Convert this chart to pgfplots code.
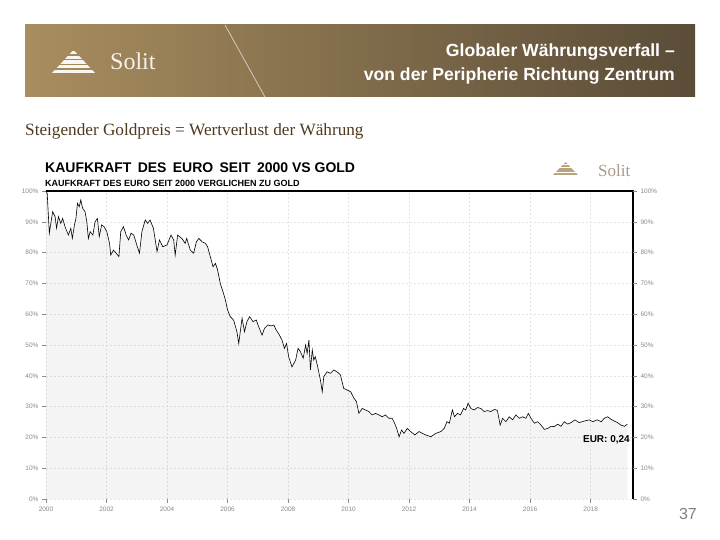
\documentclass[border=0pt]{standalone}
\usepackage{pgfplots}
\pgfplotsset{compat=1.18}
\usepackage{pgfplotstable}
\usepackage{fontspec}
\setmainfont{Liberation Sans}
\newfontfamily\serifrm{Liberation Serif}
\definecolor{bannerL}{HTML}{A88D5E}
\definecolor{bannerM}{HTML}{8C7450}
\definecolor{bannerR}{HTML}{5A4C38}
\definecolor{subbrown}{HTML}{4F3A1F}
\definecolor{gridgray}{HTML}{E4E4E4}
\definecolor{labgray}{HTML}{8A8A8A}
\definecolor{logotan}{HTML}{B9A47E}
\definecolor{logotext}{HTML}{A89A86}

\pgfplotstableread{
x y
2000.00 100.0
2000.04 99.2
2000.11 86.3
2000.22 93.3
2000.30 91.7
2000.35 87.9
2000.41 91.7
2000.49 89.5
2000.55 91.1
2000.63 88.4
2000.74 85.7
2000.82 87.9
2000.87 84.6
2000.94 89.0
2000.99 91.1
2001.04 96.0
2001.10 94.9
2001.15 97.1
2001.21 94.4
2001.29 93.3
2001.35 90.0
2001.40 84.6
2001.46 86.8
2001.55 85.7
2001.62 90.0
2001.70 91.1
2001.76 85.2
2001.84 89.0
2001.92 88.4
2002.01 86.8
2002.10 83.0
2002.14 79.2
2002.23 80.8
2002.32 79.8
2002.41 78.7
2002.47 86.8
2002.56 88.4
2002.65 85.7
2002.73 84.1
2002.81 86.3
2002.90 85.7
2003.00 82.5
2003.09 79.8
2003.17 86.8
2003.28 90.6
2003.36 89.5
2003.44 90.6
2003.55 87.9
2003.67 80.3
2003.75 84.1
2003.86 81.9
2004.00 82.5
2004.13 85.7
2004.22 84.1
2004.27 79.2
2004.35 85.7
2004.49 84.6
2004.60 83.0
2004.65 84.6
2004.77 80.8
2004.88 79.8
2004.97 83.5
2005.05 84.6
2005.16 83.5
2005.27 83.0
2005.34 81.9
2005.43 78.7
2005.52 75.4
2005.60 76.5
2005.67 74.4
2005.76 70.0
2005.85 67.3
2005.93 64.6
2006.00 61.4
2006.09 59.2
2006.20 58.1
2006.31 54.3
2006.37 50.5
2006.42 54.3
2006.48 58.7
2006.56 54.3
2006.64 57.6
2006.73 59.2
2006.84 57.6
2006.95 58.1
2007.03 55.9
2007.14 53.2
2007.22 55.4
2007.33 56.5
2007.44 56.2
2007.53 56.5
2007.60 55.0
2007.70 53.5
2007.80 51.6
2007.88 48.9
2007.95 50.5
2008.02 46.2
2008.13 42.9
2008.25 45.1
2008.33 48.9
2008.41 47.8
2008.50 45.7
2008.58 50.0
2008.63 47.3
2008.69 51.6
2008.74 41.9
2008.80 48.4
2008.85 45.1
2008.90 46.2
2008.98 42.9
2009.07 38.6
2009.13 34.8
2009.18 39.7
2009.29 41.3
2009.40 40.8
2009.51 41.9
2009.62 41.3
2009.73 40.3
2009.84 35.9
2009.95 35.4
2010.07 34.8
2010.18 32.7
2010.26 31.6
2010.34 27.8
2010.45 29.4
2010.56 28.9
2010.67 28.4
2010.78 27.3
2010.89 27.8
2011.00 27.3
2011.11 26.7
2011.22 27.3
2011.33 26.2
2011.44 26.2
2011.52 24.6
2011.59 22.9
2011.67 20.2
2011.75 22.4
2011.83 21.3
2011.94 22.9
2012.05 21.9
2012.19 20.8
2012.33 21.9
2012.44 21.3
2012.55 20.8
2012.72 20.2
2012.88 21.3
2013.05 21.9
2013.16 22.9
2013.25 25.1
2013.33 24.6
2013.43 28.9
2013.50 26.7
2013.60 27.8
2013.70 27.3
2013.80 29.4
2013.87 28.9
2013.95 31.1
2014.04 29.4
2014.15 28.9
2014.26 29.7
2014.37 29.4
2014.48 28.4
2014.59 28.7
2014.70 28.4
2014.83 29.1
2014.92 28.7
2015.01 24.0
2015.09 26.2
2015.20 25.1
2015.31 26.7
2015.42 25.7
2015.53 27.3
2015.64 26.2
2015.75 26.7
2015.86 26.2
2015.94 27.8
2016.03 26.2
2016.14 24.6
2016.25 25.1
2016.36 24.0
2016.47 22.6
2016.58 22.9
2016.69 23.6
2016.80 23.5
2016.91 24.3
2017.02 23.6
2017.13 25.1
2017.24 24.3
2017.35 24.8
2017.48 25.7
2017.62 24.8
2017.79 25.3
2017.96 25.7
2018.07 25.1
2018.22 25.7
2018.35 25.1
2018.45 26.2
2018.56 26.7
2018.67 25.9
2018.78 25.3
2018.89 24.8
2019.00 24.0
2019.12 23.6
2019.21 24.3
}\eurdata

\begin{document}
\begin{tikzpicture}[x=1pt,y=1pt]
\path[use as bounding box, fill=white] (0,0) rectangle (720,540);
% banner
\shade[left color=bannerL, middle color=bannerM, right color=bannerR] (25,443) rectangle (695,515);
\draw[white!75!bannerM, line width=0.6pt] (225,515) -- (265,443);
% banner logo
\begin{scope}
\clip (52,467) -- (95,467) -- (73.5,490) -- cycle;
\foreach \k in {0,...,4} {\fill[white!92!bannerL] (50,467+\k*4.7) rectangle (97,467+\k*4.7+3.2);}
\end{scope}
\node[anchor=base west, inner sep=0pt, text=white!88!bannerL] at (110,470) {\serifrm\fontsize{24}{24}\selectfont Solit};
% title
\node[anchor=base east, inner sep=0pt, text=white, font=\bfseries\fontsize{17.6}{17.6}\selectfont] at (675,483) {Globaler Währungsverfall –};
\node[anchor=base east, inner sep=0pt, text=white, font=\bfseries\fontsize{17.6}{17.6}\selectfont] at (675,459) {von der Peripherie Richtung Zentrum};
% subtitle
\node[anchor=base west, inner sep=0pt, text=subbrown] at (25,404) {\serifrm\fontsize{17.2}{17.2}\selectfont Steigender Goldpreis = Wertverlust der Währung};
% chart title
\node[anchor=base west, inner sep=0pt, font=\bfseries\fontsize{14}{14}\selectfont] at (45,367) {KAUFKRAFT\hspace{0.45em}DES\hspace{0.45em}EURO\hspace{0.45em}SEIT\hspace{0.45em}2000 VS GOLD};
\node[anchor=base west, inner sep=0pt, font=\bfseries\fontsize{9}{9}\selectfont] at (45,353.5) {KAUFKRAFT DES EURO SEIT 2000 VERGLICHEN ZU GOLD};
% chart logo
\begin{scope}
\clip (553,365) -- (578,365) -- (565.5,378) -- cycle;
\foreach \k in {0,...,4} {\fill[logotan] (550,365+\k*2.7) rectangle (580,365+\k*2.7+1.8);}
\end{scope}
\node[anchor=base west, inner sep=0pt, text=logotext] at (598,363) {\serifrm\fontsize{17}{17}\selectfont Solit};
% page number
\node[anchor=base east, inner sep=0pt, text=black!50] at (697,20) {\fontsize{16}{16}\selectfont 37};

\begin{axis}[at={(46pt,41pt)}, anchor=south west, scale only axis,
  width=587pt, height=308pt,
  xmin=2000, xmax=2019.4, ymin=0, ymax=100,
  axis line style={draw=none},
  xtick={2000,2002,...,2018}, ytick={0,10,...,100},
  tick pos=left, tick align=outside, major tick length=4pt,
  tick style={labgray, line width=0.5pt},
  grid=major, major grid style={gridgray, dash pattern=on 2pt off 2pt, line width=0.5pt},
  /pgf/number format/assume math mode=true,
  yticklabel={\pgfmathprintnumber{\tick}\%},
  xticklabel={\pgfmathprintnumber[1000 sep={}]{\tick}},
  tick label style={font=\fontsize{6.5}{7}\selectfont, text=labgray},
  clip=false]
\addplot[fill=black, fill opacity=0.045, draw=none] table[x=x,y=y]{\eurdata} \closedcycle;
\addplot[black, line width=0.6pt] table[x=x,y=y]{\eurdata};
\draw[black, line width=1.3pt] (rel axis cs:0,1) -- (rel axis cs:1,1) -- (rel axis cs:1,0);
\node[anchor=base east, inner sep=0pt, font=\bfseries\fontsize{10}{10}\selectfont] at (axis cs:2019.3,18.5) {EUR: 0,24};
\end{axis}
\begin{axis}[at={(46pt,41pt)}, anchor=south west, scale only axis,
  width=587pt, height=308pt,
  xmin=2000, xmax=2019.4, ymin=0, ymax=100,
  axis x line=none, axis y line*=right, axis line style={draw=none},
  ytick={0,10,...,100}, tick align=outside, major tick length=4pt,
  tick style={labgray, line width=0.5pt},
  /pgf/number format/assume math mode=true,
  yticklabel={\pgfmathprintnumber{\tick}\%},
  tick label style={font=\fontsize{6.5}{7}\selectfont, text=labgray}]
\end{axis}
\end{tikzpicture}
\end{document}
